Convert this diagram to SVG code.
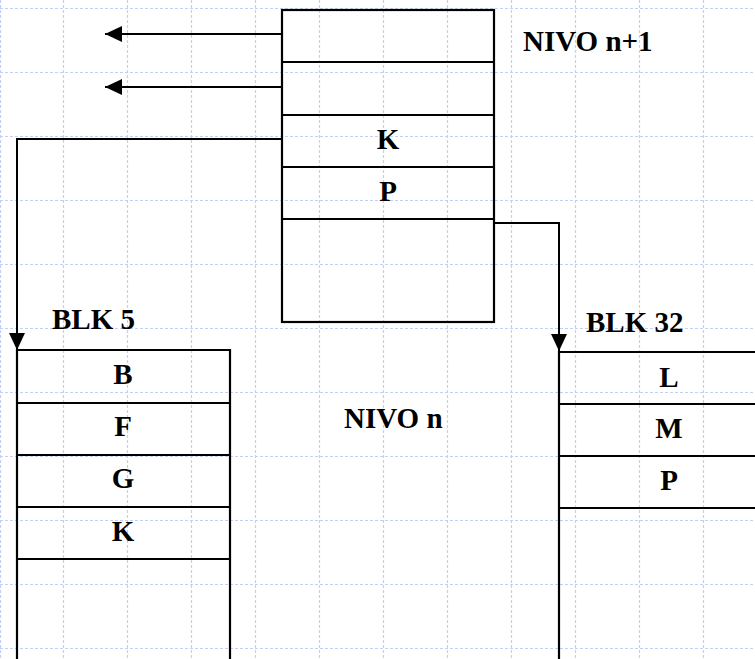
<svg xmlns="http://www.w3.org/2000/svg" width="755" height="659" viewBox="0 0 755 659">
<defs>
<style>
.grid line{stroke:#c3cff5;stroke-width:1.2;stroke-dasharray:3 2}
.box{fill:none;stroke:#000;stroke-width:2.2}
.conn{fill:none;stroke:#000;stroke-width:2}
text{font-family:"Liberation Serif","Times New Roman",serif;font-weight:bold;font-size:29px;fill:#000}
.c{text-anchor:middle}
</style>
<marker id="ah" viewBox="0 0 10 10" refX="10" refY="5" markerWidth="17" markerHeight="16" markerUnits="userSpaceOnUse" orient="auto" preserveAspectRatio="none">
<path d="M0,0 L10,5 L0,10 Z" fill="#000"/>
</marker>
</defs>
<rect width="755" height="659" fill="#fff"/>
<g class="grid">
<line x1="0.5" y1="0" x2="0.5" y2="659"/>
<line x1="63.5" y1="0" x2="63.5" y2="659"/>
<line x1="127.5" y1="0" x2="127.5" y2="659"/>
<line x1="191.5" y1="0" x2="191.5" y2="659"/>
<line x1="255.5" y1="0" x2="255.5" y2="659"/>
<line x1="319.5" y1="0" x2="319.5" y2="659"/>
<line x1="383.5" y1="0" x2="383.5" y2="659"/>
<line x1="447.5" y1="0" x2="447.5" y2="659"/>
<line x1="511.5" y1="0" x2="511.5" y2="659"/>
<line x1="575.5" y1="0" x2="575.5" y2="659"/>
<line x1="639.5" y1="0" x2="639.5" y2="659"/>
<line x1="703.5" y1="0" x2="703.5" y2="659"/>
<line x1="0" y1="8.5" x2="755" y2="8.5"/>
<line x1="0" y1="72.5" x2="755" y2="72.5"/>
<line x1="0" y1="136.5" x2="755" y2="136.5"/>
<line x1="0" y1="200.5" x2="755" y2="200.5"/>
<line x1="0" y1="264.5" x2="755" y2="264.5"/>
<line x1="0" y1="328.5" x2="755" y2="328.5"/>
<line x1="0" y1="392.5" x2="755" y2="392.5"/>
<line x1="0" y1="456.5" x2="755" y2="456.5"/>
<line x1="0" y1="520.5" x2="755" y2="520.5"/>
<line x1="0" y1="584.5" x2="755" y2="584.5"/>
<line x1="0" y1="648.5" x2="755" y2="648.5"/>
</g>
<g id="connectors">
<line class="conn" x1="282" y1="34" x2="105" y2="34" marker-end="url(#ah)"/>
<line class="conn" x1="282" y1="87" x2="105" y2="87" marker-end="url(#ah)"/>
<polyline class="conn" points="282,139 17,139 17,350" marker-end="url(#ah)"/>
<polyline class="conn" points="494,223 559,223 559,351" marker-end="url(#ah)"/>
</g>
<g id="node-nivo-n1">
<rect class="box" x="282" y="10" width="212" height="312"/>
<line class="box" x1="282" y1="62" x2="494" y2="62"/>
<line class="box" x1="282" y1="115" x2="494" y2="115"/>
<line class="box" x1="282" y1="167" x2="494" y2="167"/>
<line class="box" x1="282" y1="219" x2="494" y2="219"/>
<text class="c" x="388" y="149">K</text>
<text class="c" x="388" y="201">P</text>
</g>
<g id="label-nivo-n1"><text x="523" y="51">NIVO n+1</text></g>
<g id="label-nivo-n"><text x="344" y="428">NIVO n</text></g>
<g id="node-blk5">
<text x="52" y="329">BLK 5</text>
<polyline class="box" points="17,665 17,350 230,350 230,665"/>
<line class="box" x1="17" y1="403" x2="230" y2="403"/>
<line class="box" x1="17" y1="455" x2="230" y2="455"/>
<line class="box" x1="17" y1="507" x2="230" y2="507"/>
<line class="box" x1="17" y1="559" x2="230" y2="559"/>
<text class="c" x="123" y="384">B</text>
<text class="c" x="123" y="436">F</text>
<text class="c" x="123" y="488">G</text>
<text class="c" x="123" y="541">K</text>
</g>
<g id="node-blk32">
<text x="586" y="332">BLK 32</text>
<polyline class="box" points="559,665 559,352 760,352"/>
<line class="box" x1="559" y1="404" x2="760" y2="404"/>
<line class="box" x1="559" y1="456" x2="760" y2="456"/>
<line class="box" x1="559" y1="508" x2="760" y2="508"/>
<text class="c" x="669" y="387">L</text>
<text class="c" x="669" y="438">M</text>
<text class="c" x="669" y="490">P</text>
</g>
</svg>
